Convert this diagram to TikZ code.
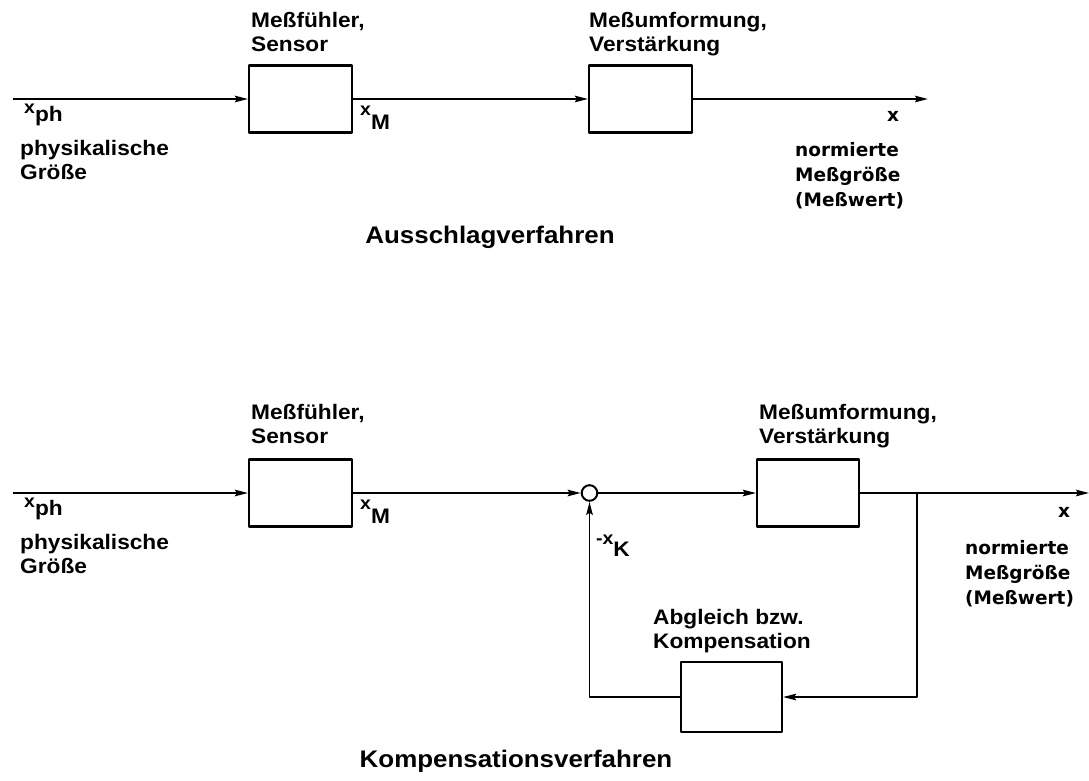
\documentclass[tikz,border=0pt]{standalone}
\usepackage{fontspec}
\setmainfont{Liberation Sans}[FakeStretch=1.08]
\newfontfamily\wertfont{DejaVu Sans}
\usetikzlibrary{arrows.meta}
\tikzset{
  every picture/.style={line join=round, >={Stealth[length=13pt,width=6.5pt,inset=2pt]}},
  block/.style={draw, line width=2.2pt, minimum width=103pt, minimum height=67pt, inner sep=0pt},
  sumpt/.style={draw, circle, line width=2pt, fill=white, minimum size=15.6pt, inner sep=0pt},
  sig/.style={line width=1.9pt},
  lbl/.style={font=\fontsize{21}{24}\selectfont\bfseries, align=left, inner sep=0pt, anchor=north west},
  wert/.style={font=\wertfont\fontsize{18.5}{25}\selectfont\bfseries, align=left, inner sep=0pt},
  titel/.style={font=\fontsize{24}{28}\selectfont\bfseries, inner sep=0pt, anchor=base},
}
\newcommand{\grsig}[3]{\raisebox{#3}{\fontsize{18}{18}\selectfont #1}#2}

\begin{document}
\begin{tikzpicture}[x=1pt,y=-1pt]
\useasboundingbox (0,0) rectangle (1089,781);
% Ausschlagverfahren
\node[block] (sens) at (300.5,99) {};
\node[block] (umf) at (640.5,99) {};
\coordinate (in) at (13,99);
\coordinate (out) at (928,99);
\draw[sig,->] (in) -- (sens.west);
\draw[sig,->] (sens.east) -- (umf.west);
\draw[sig,->] (umf.east) -- (out);
\node[lbl] (senstxt) at (251,12) {Meßfühler,\\Sensor};
\node[lbl] (umftxt) at (589,12) {Meßumformung,\\Verstärkung};
\node[lbl] (xph) at (24,104) {\grsig{x}{ph}{8pt}};
\node[lbl] (phys) at (20,140) {physikalische\\Größe};
\node[lbl] (xm) at (360,106) {\grsig{x}{M}{14pt}};
\node[wert,anchor=base west] (x) at (887,122) {x};
\node[wert,anchor=north west] (norm) at (795,142) {normierte\\Meßgröße\\(Meßwert)};
\node[titel] (aus) at (490,243) {Ausschlagverfahren};
% Kompensationsverfahren
\node[block] (sens2) at (300.5,493) {};
\node[sumpt] (sum) at (589.5,493) {};
\node[block, minimum width=102pt] (umf2) at (808,493) {};
\node[block, minimum width=101pt, minimum height=70pt] (komp) at (731.5,697) {};
\coordinate (in2) at (13,493);
\coordinate (branch) at (917,493);
\coordinate (out2) at (1089,493);
\draw[sig,->] (in2) -- (sens2.west);
\draw[sig,->] (sens2.east) -- (sum.west);
\draw[sig,->] (sum.east) -- (umf2.west);
\draw[sig,->] (umf2.east) -- (out2);
\draw[sig,->] (branch) |- (komp.east);
\draw[sig,->] (komp.west) -| (sum.south);
\node[lbl] (senstxt2) at (251,404) {Meßfühler,\\Sensor};
\node[lbl] (umftxt2) at (759,404) {Meßumformung,\\Verstärkung};
\node[lbl] (xph2) at (24,498) {\grsig{x}{ph}{8pt}};
\node[lbl] (phys2) at (20,534) {physikalische\\Größe};
\node[lbl] (xm2) at (360,500) {\grsig{x}{M}{14pt}};
\node[lbl] (xk) at (596,535) {\grsig{-x}{K}{12pt}};
\node[lbl] (komptxt) at (653,609) {Abgleich bzw.\\Kompensation};
\node[wert,anchor=base west] (x2) at (1058,517) {x};
\node[wert,anchor=north west] (norm2) at (965,540) {normierte\\Meßgröße\\(Meßwert)};
\node[titel] (kompv) at (516,767) {Kompensationsverfahren};
\end{tikzpicture}
\end{document}
